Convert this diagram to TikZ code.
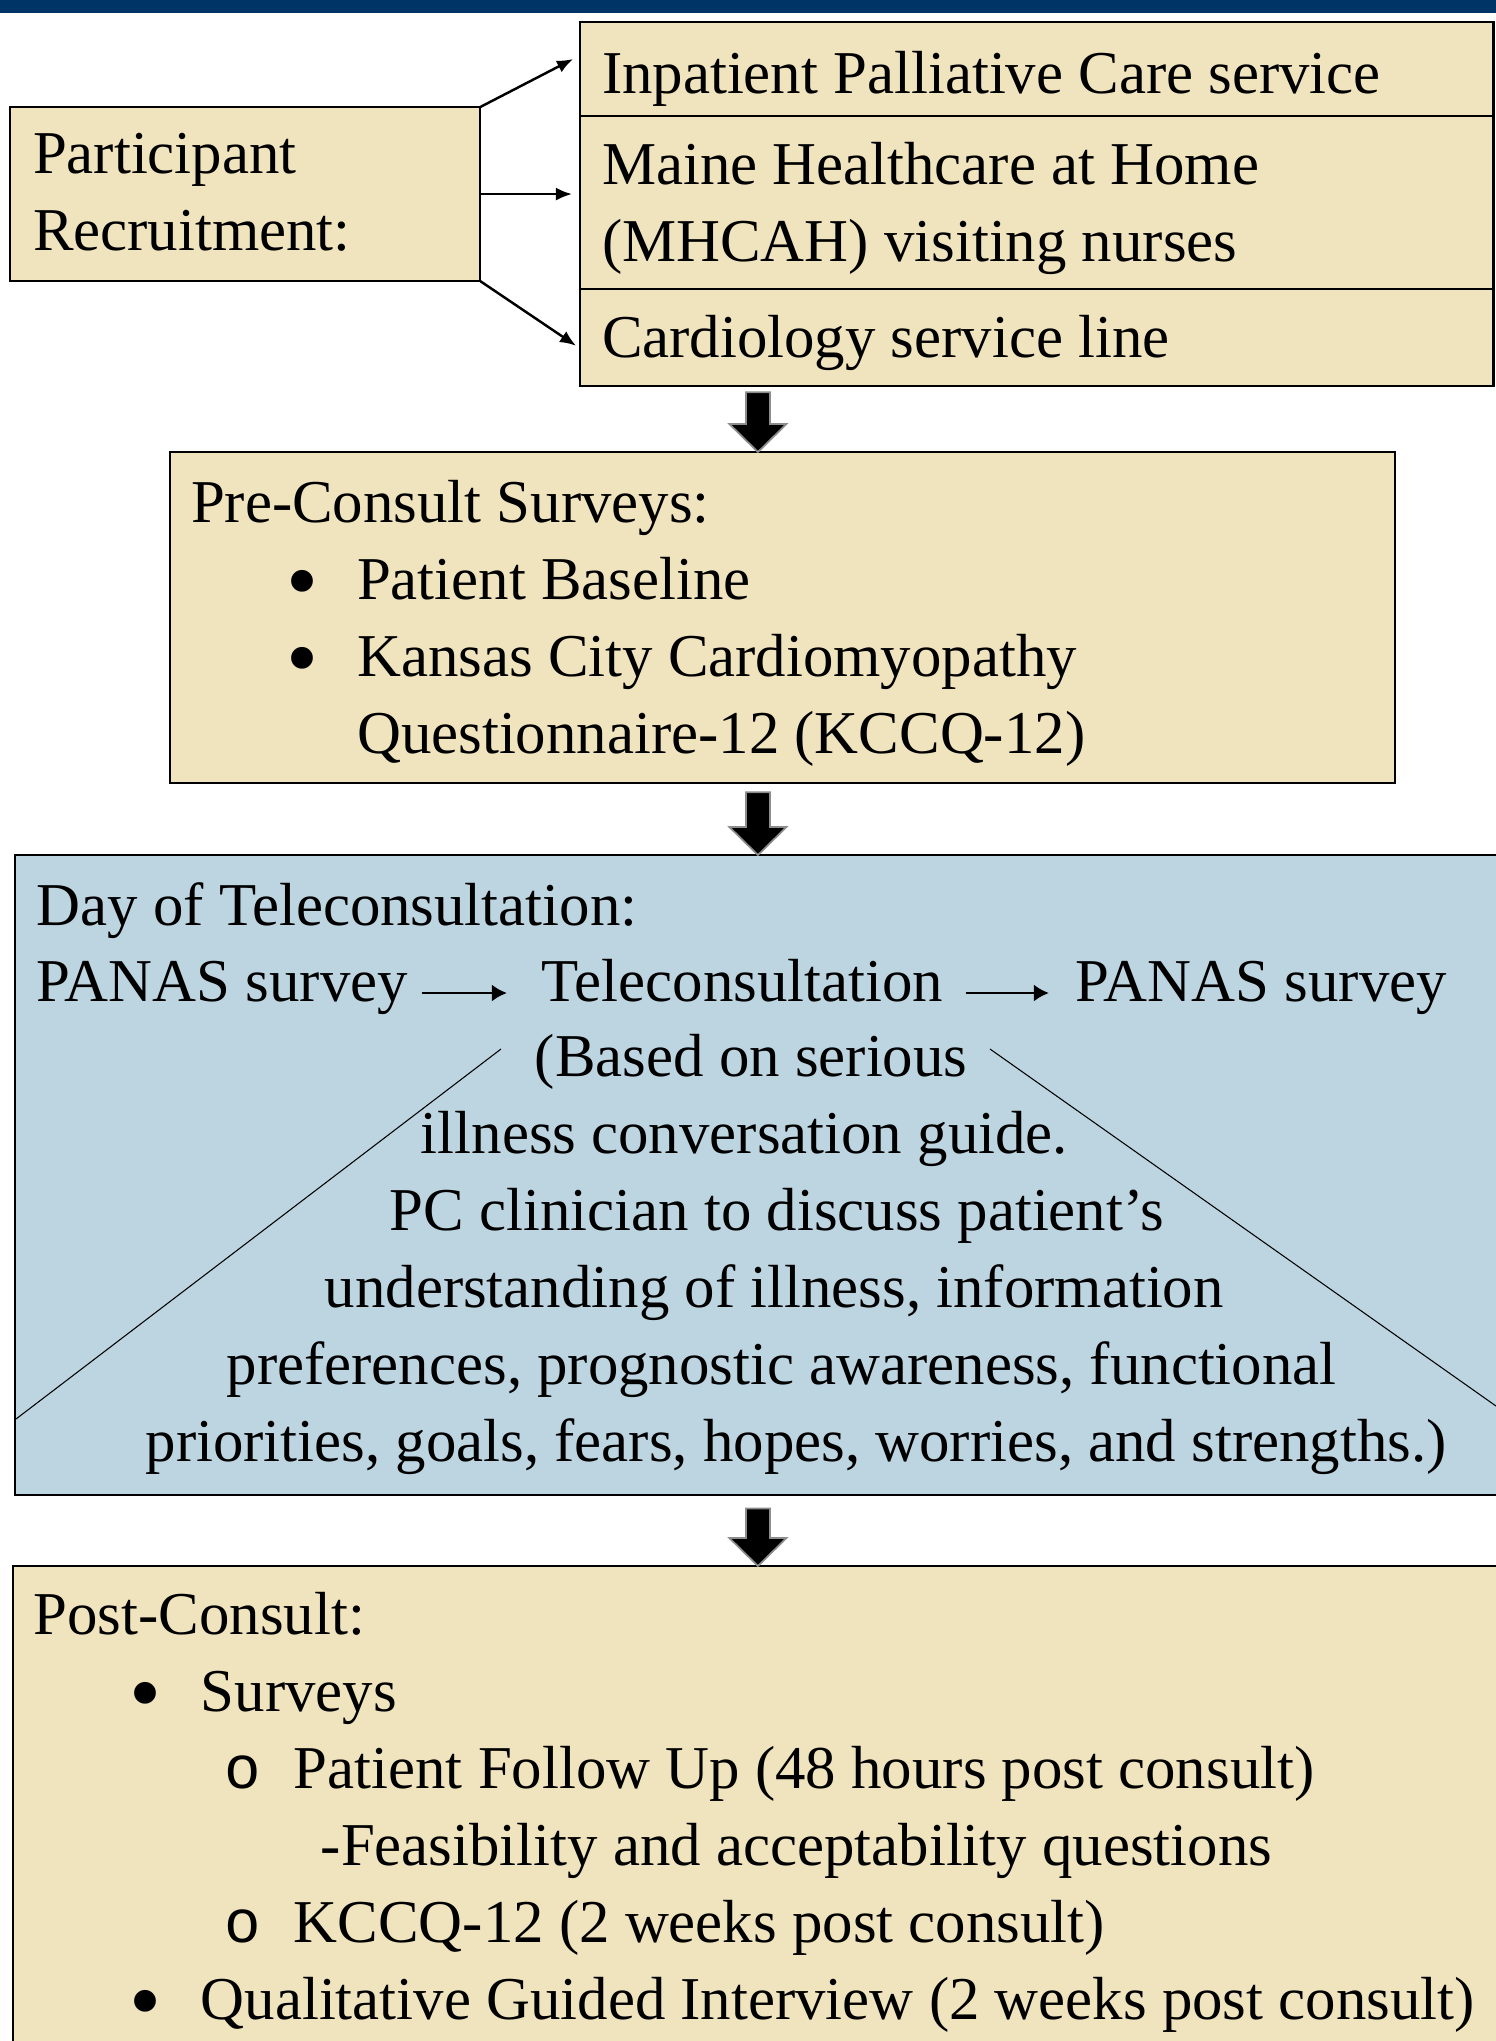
\documentclass[tikz,border=0pt]{standalone}
\usepackage{fontspec}
\usepackage{graphicx}
\setmainfont{Liberation Serif}
\newfontfamily\ringfont{Liberation Mono}
\usetikzlibrary{arrows.meta, positioning, calc}

\definecolor{sand}{RGB}{240,228,190}
\definecolor{teleblue}{RGB}{189,213,225}
\definecolor{navybar}{RGB}{0,51,102}

% block arrow pointing down, from #1 to #2
\newcommand{\bigarrow}[2]{%
  \draw[bigarr] let \p1=(#1), \p2=(#2) in
    (\x1-0.12cm,\y1) -- (\x1+0.12cm,\y1) -- (\x1+0.12cm,\y2+0.28cm)
    -- (\x1+0.285cm,\y2+0.28cm) -- (\x1,\y2) -- (\x1-0.285cm,\y2+0.28cm)
    -- (\x1-0.12cm,\y2+0.28cm) -- cycle;}
\newcommand{\dotitem}[1]{\hspace*{#1}\makebox[0.71cm][l]{\raisebox{-0.12cm}{\scalebox{1.5}{\textbullet}}}}
\newcommand{\ringitem}[1]{\hspace*{#1}\makebox[0.69cm][l]{\ringfont o}}
\newcommand{\topline}{\rule{0pt}{0.54cm}}

\begin{document}
\begin{tikzpicture}[
    x=0.01cm, y=-0.01cm,
    every node/.style={font=\fontsize{17.3}{21.9}\selectfont},
    box/.style={draw, line width=0.6pt, fill=sand, inner ysep=0pt, outer sep=0pt, anchor=north west, align=flush left},
    lift/.style={execute at begin node={\rule{0pt}{#1}}, execute at end node={\rule[-0.23cm]{0pt}{0.23cm}}},
    txt/.style={inner sep=0pt, align=left},
    recarr/.style={-{Latex[length=0.16cm, width=0.13cm]}, line width=0.7pt},
    smallarr/.style={-{Latex[length=0.15cm, width=0.17cm]}, line width=0.8pt},
    bigarr/.style={fill=black, draw=black!45, line width=0.5pt}
  ]
  \useasboundingbox (0,0) rectangle (1496,2041);
  \fill[navybar] (0,0) rectangle (1496,13);

  % recruitment
  \node[box, lift=0.59cm, minimum height=1.74cm, text width=4.24cm, inner xsep=0.23cm] (recruit) at (10,107) {Participant\\Recruitment:};
  \node[box, lift=0.71cm, minimum height=0.90cm, text width=8.69cm, inner xsep=0.22cm] (inpat) at (580,22) {Inpatient Palliative Care service};
  \node[box, lift=0.63cm, minimum height=1.73cm, text width=8.69cm, inner xsep=0.22cm, below=0pt of inpat] (maine) {Maine Healthcare at Home\\(MHCAH) visiting nurses};
  \node[box, lift=0.62cm, minimum height=0.97cm, text width=8.69cm, inner xsep=0.22cm, below=0pt of maine] (cardio) {Cardiology service line};

  \draw[recarr] (recruit.north east) -- ([shift={(-7,-10)}]inpat.west);
  \draw[recarr, shorten >=0.08cm] (recruit.east) -- (recruit.east -| maine.west);
  \draw[recarr] (recruit.south east) -- ([shift={(-4,8)}]cardio.west);

  % pre-consult
  \node[box, lift=0.63cm, minimum height=3.31cm, text width=11.82cm, inner xsep=0.21cm] (pre) at (170,452)
    {Pre-Consult Surveys:\\
     \dotitem{0.95cm}Patient Baseline\\
     \dotitem{0.95cm}Kansas City Cardiomyopathy\\
     \hspace*{1.66cm}Questionnaire-12 (KCCQ-12)};

  % day of teleconsultation
  \node[box, fill=teleblue, minimum width=14.85cm, minimum height=6.40cm] (day) at (15,855) {};
  \node[txt, anchor=base west] (daytitle) at (36,925) {Day of Teleconsultation:};
  \node[txt, anchor=base west] (panasA) at (36,1001) {PANAS survey};
  \node[txt, anchor=base west] (tele) at (541,1001) {Teleconsultation};
  \node[txt, anchor=base west] (panasB) at (1075,1001) {PANAS survey};
  \draw[smallarr, shorten <=0.13cm, shorten >=0.34cm] ([yshift=0.08cm]panasA.base east) -- ([yshift=0.08cm]tele.base west);
  \draw[smallarr, shorten <=0.22cm, shorten >=0.26cm] ([yshift=0.08cm]tele.base east) -- ([yshift=0.08cm]panasB.base west);

  \coordinate (fanL) at (501,1049);
  \coordinate (fanLend) at (16,1419);
  \coordinate (fanR) at (990,1049);
  \coordinate (fanRend) at (1496,1406);
  \draw[line width=0.3pt] (fanL) -- (fanLend);
  \draw[line width=0.3pt] (fanR) -- (fanRend);

  \node[txt, anchor=north west] (guide) at (145,1022)
    {\topline\hspace*{3.89cm}(Based on serious\\
     \hspace*{2.75cm}illness conversation guide.\\
     \hspace*{2.44cm}PC clinician to discuss patient’s\\
     \hspace*{1.79cm}understanding of illness, information\\
     \hspace*{0.81cm}preferences, prognostic awareness, functional\\
     priorities, goals, fears, hopes, worries, and strengths.)};

  % post-consult
  \node[box, minimum width=14.87cm, minimum height=5.00cm] (post) at (13,1566) {};
  \node[txt, anchor=north west] (postlist) at (33,1580)
    {\topline Post-Consult:\\
     \dotitem{0.96cm}Surveys\\
     \ringitem{1.91cm}Patient Follow Up (48 hours post consult)\\
     \hspace*{2.87cm}-Feasibility and acceptability questions\\
     \ringitem{1.91cm}KCCQ-12 (2 weeks post consult)\\
     \dotitem{0.96cm}Qualitative Guided Interview (2 weeks post consult)};

  \bigarrow{$(cardio.south -| day.north)+(0,6)$}{pre.north -| day.north}
  \bigarrow{$(pre.south -| day.north)+(0,9)$}{day.north}
  \bigarrow{$(day.south)+(0,13)$}{post.north -| day.south}
\end{tikzpicture}
\end{document}
